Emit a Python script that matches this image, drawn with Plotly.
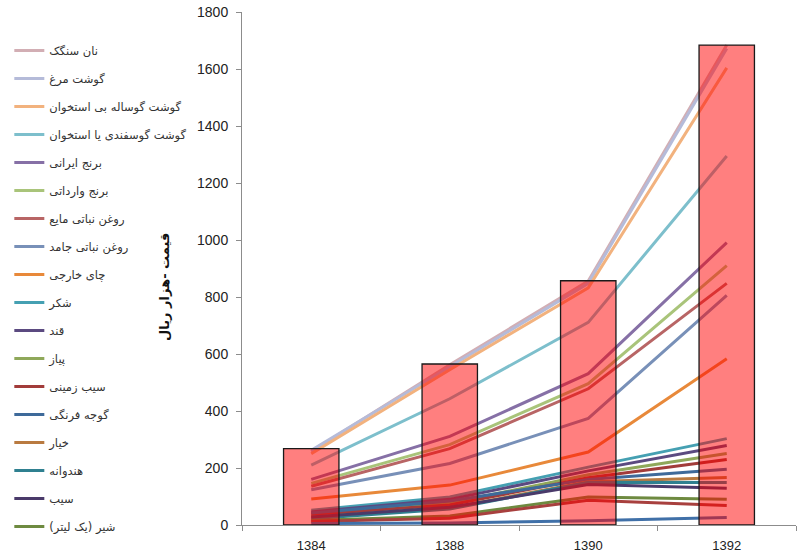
import plotly.graph_objects as go

years = ["1384", "1388", "1390", "1392"]

bar_values = [268, 565, 857, 1684]

series_names = [
    "نان سنگک",
    "گوشت مرغ",
    "گوشت گوساله بی استخوان",
    "گوشت گوسفندی یا استخوان",
    "برنج ایرانی",
    "برنج وارداتی",
    "روغن نباتی مایع",
    "روغن نباتی جامد",
    "چای خارجی",
    "شکر",
    "قند",
    "پیاز",
    "سیب زمینی",
    "گوجه فرنگی",
    "خیار",
    "هندوانه",
    "سیب",
    "شیر (یک لیتر)",
]

nan_sangak = [258, 562, 856, 1684]
goosht_morgh = [262, 556, 848, 1672]
goosht_gusale = [250, 545, 832, 1604]
goosht_gusfandi = [210, 443, 711, 1295]
berenj_irani = [160, 311, 531, 991]
berenj_varedati = [146, 282, 496, 910]
roghan_maye = [136, 268, 478, 848]
roghan_jamed = [124, 216, 374, 806]
chai = [91, 140, 256, 583]
shekar = [52, 98, 203, 303]
ghand = [46, 90, 190, 279]
piaz = [32, 77, 176, 251]
sib_zamini = [38, 70, 166, 230]
gojeh = [42, 84, 160, 196]
khiar = [26, 60, 152, 167]
hendevane = [22, 56, 150, 149]
sib = [28, 62, 142, 129]
shir = [16, 32, 98, 90]
unlisted_1 = [12, 24, 87, 68]
unlisted_2 = [5, 7, 15, 26]

series_values = [
    nan_sangak, goosht_morgh, goosht_gusale, goosht_gusfandi, berenj_irani,
    berenj_varedati, roghan_maye, roghan_jamed, chai, shekar, ghand, piaz,
    sib_zamini, gojeh, khiar, hendevane, sib, shir,
]
unlisted_values = [unlisted_1, unlisted_2]

colors = [
    "#D2AEB4", "#B5BBD9", "#F2B27E", "#7DBFCC", "#8670A6", "#A9C47A",
    "#B86565", "#7890B8", "#E8893A", "#45A0B2", "#5B4A80", "#8FA85A",
    "#A23C3A", "#3E6A9A", "#B97A40", "#2F8090", "#4A3A6A", "#6E8A40",
]
unlisted_colors = ["#A8403E", "#4070A8"]

fig = go.Figure()

for i, (name, vals) in enumerate(zip(series_names, series_values)):
    fig.add_trace(go.Scatter(
        x=years, y=vals, name=name, mode="lines",
        line=dict(color=colors[i], width=3),
        legendgroup=f"g{i}", xaxis="x", yaxis="y",
    ))

for j, vals in enumerate(unlisted_values):
    fig.add_trace(go.Scatter(
        x=years, y=vals, mode="lines", showlegend=False,
        line=dict(color=unlisted_colors[j], width=3),
        xaxis="x", yaxis="y", hoverinfo="skip",
    ))

fig.add_trace(go.Bar(
    x=years, y=bar_values, width=0.4, showlegend=False,
    marker=dict(color="rgba(255,0,0,0.5)", line=dict(color="#1a1a1a", width=1.3)),
    xaxis="x", yaxis="y2",
))

axis_font = dict(family="Liberation Sans, Arial, sans-serif", size=13, color="#222222")

fig.update_layout(
    width=800, height=557,
    margin=dict(l=242, r=4, t=10, b=32),
    paper_bgcolor="white", plot_bgcolor="white",
    showlegend=True,
    legend=dict(
        x=-0.42, xanchor="left", y=0.953, yanchor="top",
        font=dict(family="DejaVu Sans", size=11.5, color="#333333"),
        traceorder="grouped", tracegroupgap=9,
        bgcolor="rgba(0,0,0,0)", itemwidth=30,
    ),
    xaxis=dict(
        type="category", showgrid=False, zeroline=False,
        showline=True, linecolor="#8c8c8c", linewidth=1,
        ticks="outside", ticklen=5, tickcolor="#8c8c8c", tickson="boundaries",
        tickfont=axis_font, range=[-0.5, 3.5], ticklabelstandoff=8,
    ),
    yaxis=dict(
        range=[0, 1800], dtick=200, showgrid=False, zeroline=False,
        showline=True, linecolor="#8c8c8c", linewidth=1,
        ticks="outside", ticklen=5, tickcolor="#8c8c8c",
        tickfont=dict(family="Liberation Sans, Arial, sans-serif", size=14, color="#222222"),
        ticklabelstandoff=5,
    ),
    yaxis2=dict(
        range=[0, 1800], overlaying="y", visible=False, showgrid=False,
    ),
    annotations=[dict(
        text="<b>قیمت -هزار ریال</b>", xref="paper", yref="paper",
        x=(165 - 242) / 554, y=(525 - 286) / 515, xanchor="center", yanchor="middle",
        textangle=-90, showarrow=False,
        font=dict(family="DejaVu Sans", size=13, color="#111111"),
    )],
)

fig.write_html("out.html")
